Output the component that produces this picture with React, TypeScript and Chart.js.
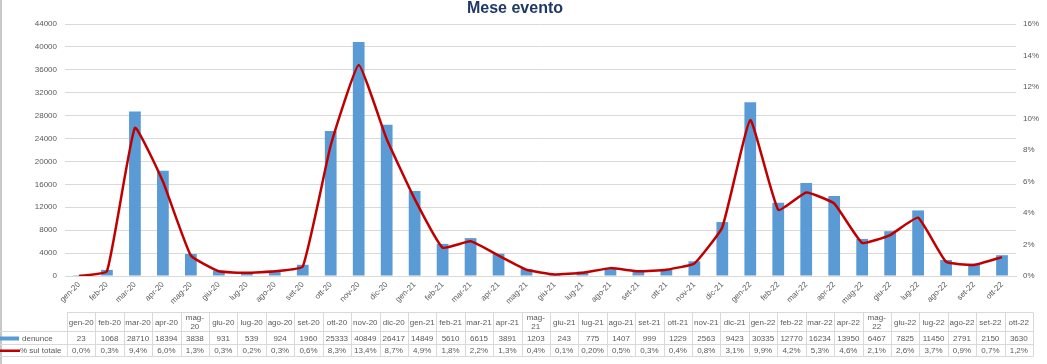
import React, { useEffect, useRef } from "react";
import { Chart, registerables } from "chart.js";

Chart.register(...registerables);

const categories = [
  "gen-20", "feb-20", "mar-20", "apr-20", "mag-20", "giu-20", "lug-20", "ago-20", "set-20", "ott-20", "nov-20", "dic-20",
  "gen-21", "feb-21", "mar-21", "apr-21", "mag-21", "giu-21", "lug-21", "ago-21", "set-21", "ott-21", "nov-21", "dic-21",
  "gen-22", "feb-22", "mar-22", "apr-22", "mag-22", "giu-22", "lug-22", "ago-22", "set-22", "ott-22",
];

const denunce = [
  23, 1068, 28710, 18394, 3838, 931, 539, 924, 1960, 25333, 40849, 26417,
  14849, 5610, 6615, 3891, 1203, 243, 775, 1407, 999, 1229, 2563, 9423,
  30335, 12770, 16234, 13950, 6467, 7825, 11450, 2791, 2150, 3630,
];

const pctSulTotale = [
  0.0, 0.3, 9.4, 6.0, 1.3, 0.3, 0.2, 0.3, 0.6, 8.3, 13.4, 8.7,
  4.9, 1.8, 2.2, 1.3, 0.4, 0.1, 0.2, 0.5, 0.3, 0.4, 0.8, 3.1,
  9.9, 4.2, 5.3, 4.6, 2.1, 2.6, 3.7, 0.9, 0.7, 1.2,
];

const pctLabels = [
  "0,0%", "0,3%", "9,4%", "6,0%", "1,3%", "0,3%", "0,2%", "0,3%", "0,6%", "8,3%", "13,4%", "8,7%",
  "4,9%", "1,8%", "2,2%", "1,3%", "0,4%", "0,1%", "0,20%", "0,5%", "0,3%", "0,4%", "0,8%", "3,1%",
  "9,9%", "4,2%", "5,3%", "4,6%", "2,1%", "2,6%", "3,7%", "0,9%", "0,7%", "1,2%",
];

const seriesNames = ["denunce", "% sul totale"];
const titleText = "Mese evento";

const FONT = "'Liberation Sans', Arial, sans-serif";
const TEXT_COLOR = "#595959";
const GRID_COLOR = "#D9D9D9";
const BAR_COLOR = "#5B9BD5";
const LINE_COLOR = "#C00000";

const framePlugin = {
  id: "frameAndTitle",
  afterDraw(chart: any) {
    const { ctx } = chart;
    ctx.save();
    ctx.fillStyle = "#C8C8C8";
    ctx.fillRect(0, 0, 2, chart.height);
    ctx.fillStyle = "#1F3864";
    ctx.font = `bold 16px ${FONT}`;
    ctx.textAlign = "center";
    ctx.textBaseline = "alphabetic";
    ctx.fillText(titleText, 515, 12.5);
    ctx.restore();
  },
};

const tablePlugin = {
  id: "dataTable",
  afterDraw(chart: any) {
    const { ctx, chartArea } = chart;
    const n = categories.length;
    const left = Math.round(chartArea.left + 2);
    const colW = (chartArea.right + 17 - left) / n;
    const right = left + colW * n;
    const y0 = 312.5, y1 = 331.5, y2 = 344.5, y3 = 356.5;
    ctx.save();
    ctx.strokeStyle = GRID_COLOR;
    ctx.lineWidth = 1;
    ctx.beginPath();
    ctx.moveTo(left, y0); ctx.lineTo(right, y0);
    ctx.moveTo(0, y1); ctx.lineTo(right, y1);
    ctx.moveTo(0, y2); ctx.lineTo(right, y2);
    ctx.moveTo(0, y3); ctx.lineTo(right, y3);
    for (let i = 0; i <= n; i++) {
      const x = Math.round(left + i * colW) + 0.5;
      ctx.moveTo(x, y0); ctx.lineTo(x, y3);
    }
    ctx.stroke();

    ctx.font = `8px ${FONT}`;
    ctx.fillStyle = TEXT_COLOR;
    ctx.textAlign = "center";
    ctx.textBaseline = "middle";
    for (let i = 0; i < n; i++) {
      const cx = left + (i + 0.5) * colW;
      const lab = categories[i];
      if (ctx.measureText(lab).width > colW - 2) {
        const parts = lab.split("-");
        ctx.fillText(parts[0] + "-", cx, y0 + 5.5);
        ctx.fillText(parts[1], cx, y0 + 14);
      } else {
        ctx.fillText(lab, cx, (y0 + y1) / 2 + 0.5);
      }
      ctx.fillText(String(denunce[i]), cx, (y1 + y2) / 2 + 0.5);
      ctx.fillText(pctLabels[i], cx, (y2 + y3) / 2 + 0.5);
    }

    // legend keys
    ctx.fillStyle = BAR_COLOR;
    ctx.fillRect(0, 336.5, 19, 4);
    ctx.fillStyle = LINE_COLOR;
    ctx.fillRect(0, 349.5, 20, 2.5);
    ctx.fillStyle = TEXT_COLOR;
    ctx.textAlign = "left";
    ctx.fillText(seriesNames[0], 22, (y1 + y2) / 2 + 0.5);
    ctx.fillText(seriesNames[1], 20, (y2 + y3) / 2 + 0.5);
    ctx.restore();
  },
};

export default function App() {
  const canvasRef = useRef<HTMLCanvasElement | null>(null);

  useEffect(() => {
    const canvas = canvasRef.current;
    if (!canvas) return;
    const chart = new Chart(canvas, {
      type: "bar",
      data: {
        labels: categories,
        datasets: [
          {
            type: "line",
            label: seriesNames[1],
            data: pctSulTotale,
            yAxisID: "y1",
            borderColor: LINE_COLOR,
            backgroundColor: LINE_COLOR,
            borderWidth: 2.5,
            pointRadius: 0,
            tension: 0.12,
            order: 0,
          } as any,
          {
            type: "bar",
            label: seriesNames[0],
            data: denunce,
            yAxisID: "y",
            backgroundColor: BAR_COLOR,
            borderWidth: 0,
            barPercentage: 0.42,
            categoryPercentage: 1,
            order: 1,
          },
        ],
      },
      options: {
        responsive: false,
        animation: false,
        maintainAspectRatio: false,
        layout: { padding: { top: 24, left: 0, right: 0, bottom: 0 } },
        plugins: {
          legend: { display: false },
          title: { display: false },
          tooltip: { enabled: false },
        },
        scales: {
          x: {
            grid: { display: false, drawTicks: false },
            border: { display: true, color: GRID_COLOR, width: 1 },
            ticks: {
              autoSkip: false,
              minRotation: 45,
              maxRotation: 45,
              padding: 4,
              color: TEXT_COLOR,
              font: { family: FONT, size: 8 },
            },
            afterFit: (scale: any) => {
              scale.height = 88;
            },
          },
          y: {
            position: "left",
            min: 0,
            max: 44000,
            ticks: {
              stepSize: 4000,
              padding: 8,
              color: TEXT_COLOR,
              font: { family: FONT, size: 8 },
              callback: (v: any) => String(v),
            },
            grid: { color: GRID_COLOR, lineWidth: 1, drawTicks: false },
            border: { display: false },
            afterFit: (scale: any) => {
              scale.width = 65;
            },
          },
          y1: {
            position: "right",
            min: 0,
            max: 16,
            ticks: {
              stepSize: 2,
              padding: 7,
              color: TEXT_COLOR,
              font: { family: FONT, size: 8 },
              callback: (v: any) => `${v}%`,
            },
            grid: { display: false, drawTicks: false },
            border: { display: false },
            afterFit: (scale: any) => {
              scale.width = 31;
            },
          },
        },
      },
      plugins: [framePlugin, tablePlugin],
    });
    return () => chart.destroy();
  }, []);

  return (
    <div style={{ position: "fixed", left: 0, top: 0, width: 1047, height: 364, background: "#fff" }}>
      <canvas ref={canvasRef} width={1047} height={364} style={{ display: "block", width: 1047, height: 364 }} />
    </div>
  );
}
